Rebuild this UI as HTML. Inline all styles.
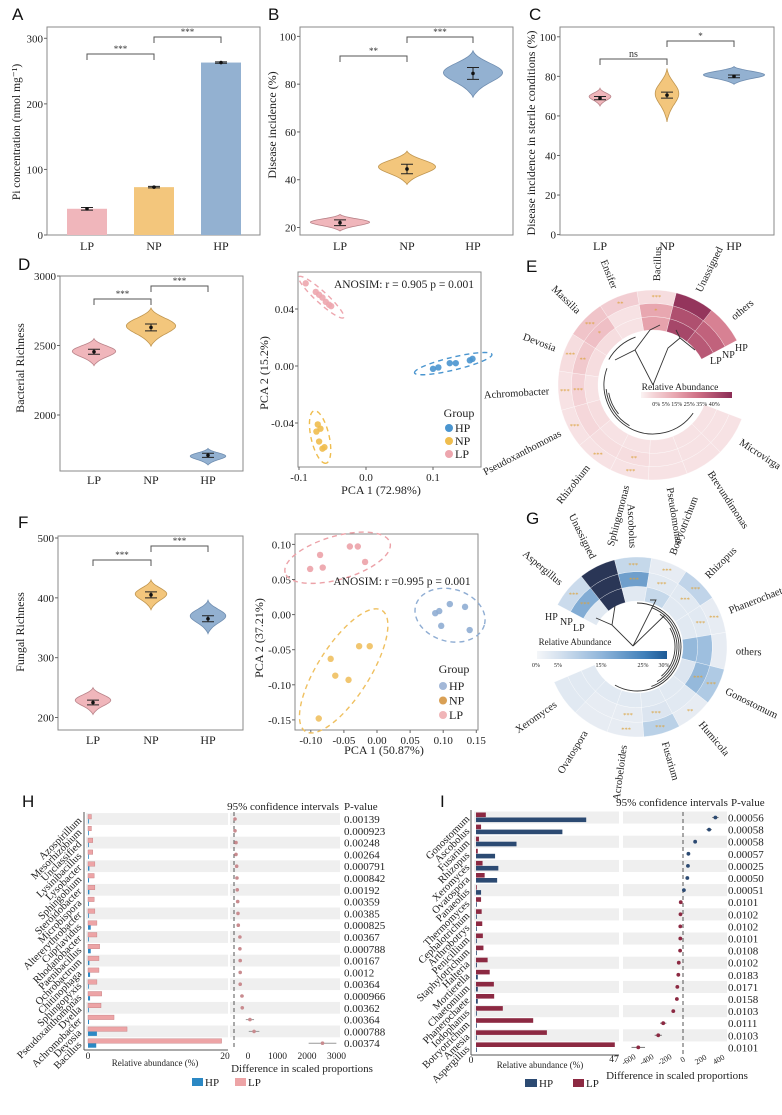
<!DOCTYPE html>
<html><head><meta charset="utf-8"><title>Figure</title>
<style>
html,body{margin:0;padding:0;background:#fff;}
svg{display:block;font-family:"Liberation Serif","DejaVu Serif",serif;}
.lt{font-family:"Liberation Sans","DejaVu Sans",sans-serif;}
</style></head>
<body>
<svg id="fig" width="782" height="1115" viewBox="0 0 782 1115" xmlns="http://www.w3.org/2000/svg">
<defs>
<linearGradient id="gE" x1="0" x2="1" y1="0" y2="0">
<stop offset="0" stop-color="#fbf3f3"/><stop offset="0.125" stop-color="#f5d7da"/><stop offset="0.375" stop-color="#e8a7b0"/><stop offset="0.625" stop-color="#cf7086"/><stop offset="1" stop-color="#8b2c55"/>
</linearGradient>
<linearGradient id="gG" x1="0" x2="1" y1="0" y2="0">
<stop offset="0" stop-color="#f4f6f9"/><stop offset="0.17" stop-color="#d6e2ef"/><stop offset="0.5" stop-color="#8fb5da"/><stop offset="0.83" stop-color="#3f7fb9"/><stop offset="1" stop-color="#1d5a96"/>
</linearGradient>
</defs>
</svg>
<script>
// ---------------- DATA ----------------
const groups = ['LP','NP','HP'];
// Panel A
const piValues = [40, 73, 263];
const piErr = [2, 1.2, 1];
// Panel B
const disMean = [22, 44.5, 84.5];
const disSE = [1.2, 2, 2.5];
const disMin = [18.5, 38, 74.5];
const disMax = [25.5, 52, 94];
// Panel C
const sterMean = [69, 70.5, 80];
const sterSE = [0.8, 1.5, 0.7];
const sterMin = [65, 57, 76];
const sterMax = [74, 84, 85];
// Panel D violin
const bacMean = [2455, 2630, 1710];
const bacSE = [18, 25, 15];
const bacMin = [2355, 2495, 1640];
const bacMax = [2550, 2770, 1760];
// Panel D PCA
const dLPx = [-0.09,-0.075,-0.07,-0.065,-0.06,-0.055,-0.052];
const dLPy = [0.058,0.052,0.05,0.048,0.045,0.043,0.042];
const dNPx = [-0.072,-0.068,-0.074,-0.07,-0.065,-0.062];
const dNPy = [-0.041,-0.044,-0.046,-0.053,-0.058,-0.057];
const dHPx = [0.1,0.108,0.125,0.134,0.155,0.159];
const dHPy = [-0.002,-0.001,0.002,0.002,0.004,0.005];
// Panel F violin
const funMean = [225, 405, 365];
const funSE = [4, 5, 5];
const funMin = [205, 380, 340];
const funMax = [250, 430, 396];
// Panel F PCA
const fLPx = [-0.101,-0.082,-0.086,-0.041,-0.029,-0.018];
const fLPy = [0.065,0.067,0.085,0.097,0.097,0.075];
const fNPx = [-0.07,-0.063,-0.043,-0.027,-0.011,-0.088];
const fNPy = [-0.063,-0.087,-0.093,-0.045,-0.045,-0.148];
const fHPx = [0.088,0.094,0.11,0.133,0.097,0.14];
const fHPy = [0.002,0.005,0.015,0.011,-0.016,-0.022];
// Panel E
const eCats = ['others','Unassigned','Bacillus','Ensifer','Massilia','Devosia','Achromobacter','Pseudoxanthomonas','Rhizobium','Sphingomonas','Pseudomonas','Brevundimonas','Microvirga'];
const eLP = [30,34,16,3,4,4,3,4,3,3,3,3,3];
const eNP = [28,32,15,3,10,8,6,5,4,4,3,3,3];
const eHP = [22,38,4,7,9,4,3,3,3,3,3,3,3];
// Panel G
const gCats = ['Aspergillus','Unassigned','Ascobolus','Botryotrichum','Rhizopus','Phanerochaete','others','Gonostomum','Humicola','Fusarium','Acrobeloides','Ovatospora','Xeromyces'];
const gLP = [3,45,3,8,3,3,16,4,3,3,3,3,3];
const gNP = [18,45,20,3,3,3,15,16,3,4,2,2,3];
const gHP = [7,45,8,2,9,2,2,12,2,10,2,2,3];
// Panel H
const hNames = ['Azospirillum','Mesorhizobium','Unclassified','Lysinibacillus','Lysobacter','Sphingobium','Steroidobacter','Microbispora','Altererythrobacter','Cupriavidus','Rhodanobacter','Paenibacillus','Ochrobactrum','Chitinophaga','Sphingopyxis','Pseudoxanthomonas','Dyella','Achromobacter','Devosia','Bacillus'];
const hLP = [0.5,0.5,0.7,0.7,1.0,0.9,1.0,0.9,1.0,1.3,1.3,1.7,1.6,1.6,1.3,2.0,1.9,3.8,5.7,19.5];
const hHP = [0.1,0.05,0.1,0.05,0.2,0.15,0.2,0.05,0.05,0.4,0.05,0.4,0.2,0.3,0.05,0.3,0.05,0.15,1.3,1.2];
const hDiff = [34,34,68,68,90,100,110,125,135,145,200,200,210,210,210,270,280,540,680,3000];
const hCI = [50,50,50,50,50,50,50,50,50,50,50,50,50,50,50,60,60,140,180,470];
const hP = ['0.00139','0.000923','0.00248','0.00264','0.000791','0.000842','0.00192','0.00359','0.00385','0.000825','0.00367','0.000788','0.00167','0.0012','0.00364','0.000966','0.00362','0.00364','0.000788','0.00374'];
const hDiffTicks = [0,1000,2000,3000];
// Panel I
const iNames = ['Gonostomum','Ascobolus','Fusarium','Rhizopus','Xeromyces','Ovatospora','Panaeolus','Thermomyces','Cephalotrichum','Arthrobotrys','Penicillium','Staphylotrichum','Halteria','Mortierella','Chaetomium','Phanerochaete','Iodophanus','Botryotrichum','Amesia','Aspergillus'];
const iLP = [3.3,1.7,1,0.6,2.2,2.9,0.1,1.7,1.9,2.1,2.3,2.5,3.9,4.6,6,6.1,9,19.2,23.8,46.6];
const iHP = [37,29,13.6,6.4,7.5,7.1,1.7,0.1,0.1,0.1,0.1,0.1,0.3,0.6,0.6,0.6,0.2,0.1,0.1,0.1];
const iDiff = [360,290,135,60,55,48,10,-25,-28,-30,-30,-32,-47,-52,-63,-68,-108,-220,-275,-497];
const iCI = [35,30,15,8,8,8,8,8,8,8,8,8,10,10,10,10,20,35,40,75];
const iP = ['0.00056','0.00058','0.00058','0.00057','0.00025','0.00050','0.00051','0.0101','0.0102','0.0102','0.0101','0.0108','0.0102','0.0183','0.0171','0.0158','0.0103','0.0111','0.0103','0.0101'];
const iDiffTicks = [-600,-400,-200,0,200,400];

// ---------------- HELPERS ----------------
const ns='http://www.w3.org/2000/svg';
const svg=document.getElementById('fig');
function mk(tag, attrs, parent){
  const e=document.createElementNS(ns,tag);
  for(const k in attrs) e.setAttribute(k, attrs[k]);
  (parent||svg).appendChild(e);
  return e;
}
function nm(e, n, inter){
  
  
  return e;
}
function tx(x,y,s,attrs,name,parent){
  const a=Object.assign({x:x,y:y,'font-size':11,fill:'#222'},attrs||{});
  const e=mk('text',a,parent); e.textContent=s; nm(e,name); return e;
}
function lin(d0,d1,r0,r1){return v=>r0+(v-d0)*(r1-r0)/(d1-d0);}
const col = {LP:'#f0b6bb', NP:'#f3c67c', HP:'#93b1d1'};
const colS = {LP:'#b98389', NP:'#c09650', HP:'#6f8db0'};

function panelLetter(x,y,s){ const t=tx(x,y,s,{'font-size':17,'class':'lt',fill:'#111'},'panel-label-'+s.toLowerCase()); }
function box(x0,y0,x1,y1,name){ nm(mk('rect',{x:x0,y:y0,width:x1-x0,height:y1-y0,fill:'none',stroke:'#8a8a8a','stroke-width':1}),name); }
function yTicks(x, vals, ys, name, fs){
  vals.forEach(v=>{
    nm(mk('line',{x1:x-3,x2:x,y1:ys(v),y2:ys(v),stroke:'#666'}),name+'-tick');
    tx(x-4,ys(v)+4,String(v),{'text-anchor':'end','font-size':fs||11},name+'-label');
  });
}
function xCats(xs, y, name){
  groups.forEach((g,i)=>tx(xs[i],y,g,{'text-anchor':'middle','font-size':12},name+'-'+g.toLowerCase()));
}
function yTitle(x,y,s,name,fs){ tx(x,y,s,{'text-anchor':'middle','font-size':fs||12,transform:`rotate(-90 ${x} ${y})`},name); }
function bracket(x1,x2,y,lab,name){
  nm(mk('path',{d:`M${x1} ${y+6}V${y}H${x2}V${y+6}`,fill:'none',stroke:'#555','stroke-width':1}),name);
  tx((x1+x2)/2,y-2,lab,{'text-anchor':'middle','font-size':lab==='ns'?10:9,fill:'#333'},name+'-label');
}
function violin(cx,yTop,yBot,hw,g,name){
  const N=30, L=[], R=[];
  for(let i=0;i<=N;i++){
    const t=i/N, y=yTop+t*(yBot-yTop);
    const s=Math.sin(Math.PI*t);
    const w=hw*Math.pow(s,1.4)*(0.55+0.45*Math.pow(Math.sin(Math.PI*Math.min(1,t*1.15)),2));
    L.push([cx-w,y]); R.push([cx+w,y]);
  }
  const d='M'+L.map(p=>p[0].toFixed(1)+' '+p[1].toFixed(1)).join('L')+'L'+R.reverse().map(p=>p[0].toFixed(1)+' '+p[1].toFixed(1)).join('L')+'Z';
  nm(mk('path',{d:d,fill:col[g],stroke:colS[g],'stroke-width':0.8}),name);
}
function errMark(cx,ym,yl,yh,name){
  nm(mk('path',{d:`M${cx-6} ${yl}H${cx+6}M${cx} ${yl}V${yh}M${cx-6} ${yh}H${cx+6}`,stroke:'#222','stroke-width':1,fill:'none'}),name);
  nm(mk('circle',{cx:cx,cy:ym,r:1.8,fill:'#111'}),name+'-mean');
}
function violinPanel(xs, ys, mean, se, mn, mx, hws, name){
  groups.forEach((g,i)=>{
    violin(xs[i], ys(mx[i]), ys(mn[i]), hws[i], g, name+'-violin-'+g.toLowerCase());
    errMark(xs[i], ys(mean[i]), ys(mean[i]+se[i]), ys(mean[i]-se[i]), name+'-errorbar-'+g.toLowerCase());
  });
}
function ellipseFor(xsA, ysA, sx, sy, color, name){
  const px=xsA.map(sx), py=ysA.map(sy), n=px.length;
  const mx=px.reduce((a,b)=>a+b)/n, my=py.reduce((a,b)=>a+b)/n;
  let cxx=0,cyy=0,cxy=0;
  for(let i=0;i<n;i++){cxx+=(px[i]-mx)**2;cyy+=(py[i]-my)**2;cxy+=(px[i]-mx)*(py[i]-my);}
  cxx/=n;cyy/=n;cxy/=n;
  const tr=cxx+cyy, det=cxx*cyy-cxy*cxy, disc=Math.sqrt(Math.max(0,tr*tr/4-det));
  const l1=tr/2+disc, l2=tr/2-disc;
  const ang=Math.atan2(l1-cxx, cxy||1e-9)*180/Math.PI;
  const rx=Math.sqrt(l1)*2.3+5, ry=Math.sqrt(Math.max(l2,0))*2.3+5;
  nm(mk('ellipse',{cx:mx,cy:my,rx:rx,ry:ry,transform:`rotate(${ang} ${mx} ${my})`,fill:'none',stroke:color,'stroke-width':1.4,'stroke-dasharray':'5 4'}),name);
}
function points(xsA, ysA, sx, sy, color, name){
  xsA.forEach((v,i)=>nm(mk('circle',{cx:sx(v),cy:sy(ysA[i]),r:3.2,fill:color,opacity:0.9}),name));
}

// ---------------- PANEL A ----------------
panelLetter(12,20,'A');
(function(){
  const ys=lin(0,300,235,38.3), xs=[87,154,221];
  box(47,27,260,235,'panel-a-plot-area');
  yTicks(47,[0,100,200,300],ys,'panel-a-y-tick');
  groups.forEach((g,i)=>{
    nm(mk('rect',{x:xs[i]-20,y:ys(piValues[i]),width:40,height:ys(0)-ys(piValues[i]),fill:col[g]}),'bar-'+g.toLowerCase());
    errMark(xs[i],ys(piValues[i]),ys(piValues[i]+piErr[i]),ys(piValues[i]-piErr[i]),'panel-a-errorbar-'+g.toLowerCase());
  });
  xCats(xs,250,'panel-a-x-label');
  yTitle(20,132,'Pi concentration (nmol mg⁻¹)','panel-a-y-axis-title',11.5);
  bracket(87,154,54,'***','panel-a-sig-lp-np');
  bracket(154,221,37,'***','panel-a-sig-np-hp');
})();

// ---------------- PANEL B ----------------
panelLetter(268,20,'B');
(function(){
  const ys=lin(20,100,227.5,36.4), xs=[340,407,473];
  box(300,27,513,235,'panel-b-plot-area');
  yTicks(300,[20,40,60,80,100],ys,'panel-b-y-tick');
  violinPanel(xs,ys,disMean,disSE,disMin,disMax,[30,29,30],'panel-b');
  xCats(xs,250,'panel-b-x-label');
  yTitle(276,125,'Disease incidence (%)','panel-b-y-axis-title');
  bracket(340,407,56,'**','panel-b-sig-lp-np');
  bracket(407,473,37,'***','panel-b-sig-np-hp');
})();

// ---------------- PANEL C ----------------
panelLetter(529,20,'C');
(function(){
  const ys=lin(0,100,234.6,36.8), xs=[600,667,734];
  box(560,27,774,235,'panel-c-plot-area');
  yTicks(560,[0,20,40,60,80,100],ys,'panel-c-y-tick');
  violinPanel(xs,ys,sterMean,sterSE,sterMin,sterMax,[11,12,31],'panel-c');
  xCats(xs,250,'panel-c-x-label');
  yTitle(535,133,'Disease incidence in sterile conditions (%)','panel-c-y-axis-title');
  bracket(600,667,59,'ns','panel-c-sig-lp-np');
  bracket(667,734,41,'*','panel-c-sig-np-hp');
})();

// ---------------- PANEL D ----------------
panelLetter(18,270,'D');
(function(){
  const ys=lin(2000,3000,415,276), xs=[94,151,208];
  box(60,276,243,471,'panel-d-plot-area');
  yTicks(60,[2000,2500,3000],ys,'panel-d-y-tick');
  violinPanel(xs,ys,bacMean,bacSE,bacMin,bacMax,[22,25,18],'panel-d');
  xCats(xs,484,'panel-d-x-label');
  yTitle(24,368,'Bacterial Richness','panel-d-y-axis-title');
  bracket(94,151,299,'***','panel-d-sig-lp-np');
  bracket(151,208,286,'***','panel-d-sig-np-hp');
})();
(function(){
  const sx=lin(0,0.1,366,433), sy=lin(0,0.04,366,309);
  box(298,272,481,467,'pca-d-plot-area');
  [-0.04,0,0.04].forEach(v=>{
    nm(mk('line',{x1:295,x2:298,y1:sy(v),y2:sy(v),stroke:'#666'}),'pca-d-y-tick');
    tx(294,sy(v)+4,v.toFixed(2),{'text-anchor':'end','font-size':11},'pca-d-y-tick-label');
  });
  [-0.1,0,0.1].forEach(v=>{
    nm(mk('line',{x1:sx(v),x2:sx(v),y1:467,y2:470,stroke:'#666'}),'pca-d-x-tick');
    tx(sx(v),481,v.toFixed(1),{'text-anchor':'middle','font-size':11},'pca-d-x-tick-label');
  });
  ellipseFor(dLPx,dLPy,sx,sy,'#eda6ae','pca-d-ellipse-lp');
  ellipseFor(dNPx,dNPy,sx,sy,'#efbd4e','pca-d-ellipse-np');
  ellipseFor(dHPx,dHPy,sx,sy,'#4a95cf','pca-d-ellipse-hp');
  points(dLPx,dLPy,sx,sy,'#eda6ae','pca-d-point-lp');
  points(dNPx,dNPy,sx,sy,'#efbd4e','pca-d-point-np');
  points(dHPx,dHPy,sx,sy,'#4a95cf','pca-d-point-hp');
  tx(404,288,'ANOSIM: r = 0.905 p = 0.001',{'text-anchor':'middle','font-size':11.5},'pca-d-anosim-text');
  tx(459,417,'Group',{'text-anchor':'middle','font-size':12},'pca-d-legend-title');
  [['HP','#4a95cf'],['NP','#efbd4e'],['LP','#eda6ae']].forEach((p,i)=>{
    nm(mk('circle',{cx:449,cy:428+i*13,r:4,fill:p[1]}),'pca-d-legend-marker-'+p[0].toLowerCase());
    tx(455,432+i*13,p[0],{'font-size':12},'pca-d-legend-entry-'+p[0].toLowerCase());
  });
  tx(381,494,'PCA 1 (72.98%)',{'text-anchor':'middle','font-size':12},'pca-d-x-axis-title');
  yTitle(268,373,'PCA 2 (15.2%)','pca-d-y-axis-title');
})();

// ---------------- PANEL F ----------------
panelLetter(18,528,'F');
(function(){
  const ys=lin(200,500,717.5,538), xs=[93,151,208];
  box(58,536,243,730,'panel-f-plot-area');
  yTicks(58,[200,300,400,500],ys,'panel-f-y-tick');
  violinPanel(xs,ys,funMean,funSE,funMin,funMax,[18,16,18],'panel-f');
  xCats(xs,744,'panel-f-x-label');
  yTitle(24,632,'Fungal Richness','panel-f-y-axis-title');
  bracket(93,151,560,'***','panel-f-sig-lp-np');
  bracket(151,208,546,'***','panel-f-sig-np-hp');
})();
(function(){
  const sx=lin(0,0.05,377,410.1), sy=lin(0,0.05,614.6,579.5);
  box(295,534,478,730,'pca-f-plot-area');
  [0.1,0.05,0,-0.05,-0.1,-0.15].forEach(v=>{
    nm(mk('line',{x1:292,x2:295,y1:sy(v),y2:sy(v),stroke:'#666'}),'pca-f-y-tick');
    tx(291,sy(v)+4,v.toFixed(2),{'text-anchor':'end','font-size':11},'pca-f-y-tick-label');
  });
  [-0.1,-0.05,0,0.05,0.1,0.15].forEach(v=>{
    nm(mk('line',{x1:sx(v),x2:sx(v),y1:730,y2:733,stroke:'#666'}),'pca-f-x-tick');
    tx(sx(v),744,v.toFixed(2),{'text-anchor':'middle','font-size':11},'pca-f-x-tick-label');
  });
  ellipseFor(fLPx,fLPy,sx,sy,'#eca2a8','pca-f-ellipse-lp');
  ellipseFor(fNPx,fNPy,sx,sy,'#efc060','pca-f-ellipse-np');
  ellipseFor(fHPx,fHPy,sx,sy,'#8fadd3','pca-f-ellipse-hp');
  points(fLPx,fLPy,sx,sy,'#eca2a8','pca-f-point-lp');
  points(fNPx,fNPy,sx,sy,'#efc060','pca-f-point-np');
  points(fHPx,fHPy,sx,sy,'#8fadd3','pca-f-point-hp');
  tx(402,585,'ANOSIM: r =0.995 p = 0.001',{'text-anchor':'middle','font-size':11.5},'pca-f-anosim-text');
  tx(454,673,'Group',{'text-anchor':'middle','font-size':12},'pca-f-legend-title');
  [['HP','#a3b8d8'],['NP','#d9a055'],['LP','#f0b5b8']].forEach((p,i)=>{
    nm(mk('circle',{cx:443,cy:686+i*14.5,r:4,fill:p[1]}),'pca-f-legend-marker-'+p[0].toLowerCase());
    tx(449,690+i*14.5,p[0],{'font-size':12},'pca-f-legend-entry-'+p[0].toLowerCase());
  });
  tx(384,754,'PCA 1 (50.87%)',{'text-anchor':'middle','font-size':12},'pca-f-x-axis-title');
  yTitle(263,638,'PCA 2 (37.21%)','pca-f-y-axis-title');
})();

// ---------------- CIRCULAR HEATMAPS ----------------
function hex2rgb(h){return [parseInt(h.substr(1,2),16),parseInt(h.substr(3,2),16),parseInt(h.substr(5,2),16)];}
function scale(stops){
  return v=>{
    if(v<=stops[0][0]) return stops[0][1];
    for(let i=1;i<stops.length;i++){
      if(v<=stops[i][0]){
        const t=(v-stops[i-1][0])/(stops[i][0]-stops[i-1][0]);
        const a=hex2rgb(stops[i-1][1]), b=hex2rgb(stops[i][1]);
        return 'rgb('+a.map((c,k)=>Math.round(c+(b[k]-c)*t)).join(',')+')';
      }
    }
    return stops[stops.length-1][1];
  };
}
function P(cx,cy,r,a){const t=a*Math.PI/180;return [cx+r*Math.sin(t),cy-r*Math.cos(t)];}
function sector(cx,cy,r0,r1,a0,a1){
  const lo=Math.min(a0,a1), hi=Math.max(a0,a1), lg=(hi-lo)>180?1:0;
  const p1=P(cx,cy,r1,lo),p2=P(cx,cy,r1,hi),p3=P(cx,cy,r0,hi),p4=P(cx,cy,r0,lo);
  return `M${p1[0]} ${p1[1]}A${r1} ${r1} 0 ${lg} 1 ${p2[0]} ${p2[1]}L${p3[0]} ${p3[1]}A${r0} ${r0} 0 ${lg} 0 ${p4[0]} ${p4[1]}Z`;
}
function arcPath(cx,cy,r,a0,a1){
  const p1=P(cx,cy,r,a0),p2=P(cx,cy,r,a1),lg=Math.abs(a1-a0)>180?1:0;
  return `M${p1[0]} ${p1[1]}A${r} ${r} 0 ${lg} ${a1>a0?1:0} ${p2[0]} ${p2[1]}`;
}
function circHeat(cfg){
  const {cx,cy,r0,r1,start,span,dir,cats,rings,cfn,name,stars}=cfg;
  const n=cats.length, step=span/n, th=(r1-r0)/3;
  const g=nm(mk('g',{}),name);
  rings.forEach((vals,ri)=>{
    vals.forEach((v,i)=>{
      const a0=start+dir*i*step, a1=start+dir*(i+1)*step;
      nm(mk('path',{d:sector(cx,cy,r0+ri*th,r0+(ri+1)*th,a0,a1),fill:cfn(v),stroke:'#ffffff','stroke-width':0.3},g),name+'-cell-'+cats[i].toLowerCase()+'-'+groups[ri].toLowerCase());
    });
  });
  cats.forEach((c,i)=>{
    const am=start+dir*(i+0.5)*step; let a=((am%360)+360)%360;
    const p=P(cx,cy,r1+9,am);
    let rot, anchor;
    if(a<180){rot=a-90;anchor='start';}else{rot=a+90;anchor='end';}
    tx(p[0],p[1]+3,c,{'font-size':10.5,'text-anchor':anchor,transform:`rotate(${rot} ${p[0]} ${p[1]})`},name+'-label-'+c.toLowerCase());
  });
  stars.forEach(s=>{
    const am=start+dir*(s[0]+0.5)*step, p=P(cx,cy,r0+(s[1]+0.5)*th,am);
    tx(p[0],p[1]+2.5,s[2],{'font-size':6.5,'text-anchor':'middle',fill:'#dba33f'},name+'-significance');
  });
}
// E
panelLetter(526,272,'E');
circHeat({cx:653,cy:385,r0:55,r1:95,start:62,span:311,dir:-1,cats:eCats,rings:[eLP,eNP,eHP],
  cfn:scale([[0,'#fbf3f3'],[5,'#f5d7da'],[15,'#e8a7b0'],[25,'#cf7086'],[40,'#8b2c55']]),name:'heatmap-e',
  stars:[[2,2,'***'],[2,1,'*'],[3,2,'**'],[4,2,'***'],[4,1,'*'],[5,2,'***'],[5,1,'**'],[6,2,'***'],[6,1,'***'],[7,2,'***'],[8,2,'***'],[9,2,'***'],[9,1,'**']]});
(function(){
  const g=nm(mk('g',{fill:'none',stroke:'#333','stroke-width':0.9}),'dendrogram-e');
  [[49,-70,-235],[47,-95,-150],[45,-100,-130],[51,-20,-60]].forEach(a=>nm(mk('path',{d:arcPath(653,385,a[0],a[1],a[2])},g),'dendrogram-e-branch'));
  nm(mk('path',{d:'M653 385L635 350L615 360M653 385L668 348L680 338L695 350M680 338L676 330M635 350L650 330L660 325'},g),'dendrogram-e-branch');
  tx(680,390,'Relative Abundance',{'text-anchor':'middle','font-size':9.5},'legend-e-title');
  nm(mk('rect',{x:641,y:392,width:91,height:6,fill:'url(#gE)'}),'legend-e-colorbar');
  tx(686,406,'0%  5%      15%    25%    35%  40%',{'text-anchor':'middle','font-size':6,'xml:space':'preserve'},'legend-e-ticks');
  tx(710,364,'LP',{'font-size':10},'heatmap-e-ring-lp');
  tx(722,358,'NP',{'font-size':10},'heatmap-e-ring-np');
  tx(735,351,'HP',{'font-size':10},'heatmap-e-ring-hp');
})();
// G
panelLetter(526,524,'G');
circHeat({cx:637,cy:647,r0:46,r1:90,start:-62,span:309,dir:1,cats:gCats,rings:[gLP,gNP,gHP],
  cfn:scale([[0,'#f2f3f6'],[5,'#d6e2ef'],[15,'#9ebfdf'],[25,'#3f7fb9'],[30,'#1d5a96'],[31,'#2a3656']]),name:'heatmap-g',
  stars:[[0,2,'***'],[0,1,'***'],[2,2,'***'],[2,1,'***'],[3,2,'***'],[3,1,'***'],[4,2,'***'],[4,1,'***'],[5,2,'***'],[5,1,'***'],[7,2,'***'],[7,1,'***'],[8,2,'**'],[9,2,'***'],[9,1,'***'],[10,2,'***'],[10,1,'***']]});
(function(){
  const g=nm(mk('g',{fill:'none',stroke:'#333','stroke-width':0.9}),'dendrogram-g');
  [[44,0,210],[42,20,160],[40,35,150],[38,60,140]].forEach(a=>nm(mk('path',{d:arcPath(637,647,a[0],a[1],a[2])},g),'dendrogram-g-branch'));
  nm(mk('path',{d:'M633 646L612 625L596 618M612 625L615 606M633 646L656 600L650 600M633 646L665 615'},g),'dendrogram-g-branch');
  tx(575,645,'Relative Abundance',{'text-anchor':'middle','font-size':9},'legend-g-title');
  nm(mk('rect',{x:537,y:651,width:130,height:8,fill:'url(#gG)'}),'legend-g-colorbar');
  [['0%',536],['5%',558],['15%',601],['25%',643],['30%',664]].forEach(p=>tx(p[1],667,p[0],{'text-anchor':'middle','font-size':6},'legend-g-tick'));
  tx(545,620,'HP',{'font-size':10},'heatmap-g-ring-hp');
  tx(560,625,'NP',{'font-size':10},'heatmap-g-ring-np');
  tx(573,631,'LP',{'font-size':10},'heatmap-g-ring-lp');
})();

// ---------------- PANEL H ----------------
panelLetter(22,807,'H');
(function(){
  const rowY=i=>819+i*11.8, xs=lin(0,20,88,225), xd=lin(0,1000,234,263.5);
  hNames.forEach((n,i)=>{
    if(i%2===0){
      nm(mk('rect',{x:86,y:rowY(i)-5.9,width:142,height:11.8,fill:'#efefef'}),'panel-h-stripe-left');
      nm(mk('rect',{x:230,y:rowY(i)-5.9,width:110,height:11.8,fill:'#efefef'}),'panel-h-stripe-right');
    }
  });
  nm(mk('line',{x1:84,x2:84,y1:812,y2:1050,stroke:'#555'}),'panel-h-y-axis');
  nm(mk('line',{x1:84,x2:228,y1:1050,y2:1050,stroke:'#555'}),'panel-h-x-axis');
  nm(mk('line',{x1:xd(0),x2:xd(0),y1:812,y2:1050,stroke:'#555','stroke-dasharray':'4 3'}),'panel-h-zero-line');
  hNames.forEach((n,i)=>{
    const y=rowY(i);
    nm(mk('rect',{x:xs(0),y:y-4.5,width:xs(hLP[i])-xs(0),height:4.5,fill:'#eda4a6',stroke:'#c07b7e','stroke-width':0.4}),'bar-h-lp-'+n.toLowerCase());
    nm(mk('rect',{x:xs(0),y:y+0.2,width:Math.max(0.8,xs(hHP[i])-xs(0)),height:4.3,fill:'#2b88c4'}),'bar-h-hp-'+n.toLowerCase());
    nm(mk('line',{x1:xd(hDiff[i]-hCI[i]),x2:xd(hDiff[i]+hCI[i]),y1:y,y2:y,stroke:'#999'}),'ci-h-'+n.toLowerCase());
    nm(mk('circle',{cx:xd(hDiff[i]),cy:y,r:1.8,fill:'#c98b8f'}),'point-h-'+n.toLowerCase());
    tx(344,y+4,hP[i],{'font-size':11},'p-value-h-'+n.toLowerCase());
    tx(80,y+3,n,{'font-size':10.5,'text-anchor':'end',transform:`rotate(-45 80 ${y})`},'row-label-h-'+n.toLowerCase());
  });
  [0,20].forEach(v=>tx(xs(v),1059,String(v),{'text-anchor':'middle','font-size':9.5},'panel-h-abundance-tick'));
  hDiffTicks.forEach(v=>tx(xd(v)+14,1059,String(v),{'text-anchor':'middle','font-size':9.5},'panel-h-diff-tick'));
  tx(155,1066,'Relative abundance (%)',{'text-anchor':'middle','font-size':9},'panel-h-x-axis-title');
  tx(302,1072,'Difference in scaled proportions',{'text-anchor':'middle','font-size':11},'panel-h-diff-axis-title');
  tx(283,810,'95% confidence intervals',{'text-anchor':'middle','font-size':11},'panel-h-ci-header');
  tx(344,810,'P-value',{'font-size':11},'panel-h-p-header');
  nm(mk('rect',{x:192,y:1078,width:11,height:8,fill:'#2b88c4'}),'legend-h-hp-swatch');
  tx(205,1086,'HP',{'font-size':11},'legend-h-hp');
  nm(mk('rect',{x:235,y:1078,width:11,height:8,fill:'#eda4a6'}),'legend-h-lp-swatch');
  tx(248,1086,'LP',{'font-size':11},'legend-h-lp');
})();

// ---------------- PANEL I ----------------
panelLetter(440,807,'I');
(function(){
  const rowY=i=>817.5+i*12.1, xs=lin(0,47,476,616), xd=lin(0,100,683,692);
  iNames.forEach((n,i)=>{
    if(i%2===0){
      nm(mk('rect',{x:474,y:rowY(i)-6,width:145,height:12.1,fill:'#efefef'}),'panel-i-stripe-left');
      nm(mk('rect',{x:623,y:rowY(i)-6,width:104,height:12.1,fill:'#efefef'}),'panel-i-stripe-right');
    }
  });
  nm(mk('line',{x1:471,x2:471,y1:810,y2:1055,stroke:'#555'}),'panel-i-y-axis');
  nm(mk('line',{x1:471,x2:619,y1:1055,y2:1055,stroke:'#555'}),'panel-i-x-axis');
  nm(mk('line',{x1:xd(0),x2:xd(0),y1:812,y2:1055,stroke:'#555','stroke-dasharray':'4 3'}),'panel-i-zero-line');
  iNames.forEach((n,i)=>{
    const y=rowY(i);
    nm(mk('rect',{x:xs(0),y:y-5,width:Math.max(0.8,xs(iLP[i])-xs(0)),height:4.6,fill:'#8c2942'}),'bar-i-lp-'+n.toLowerCase());
    nm(mk('rect',{x:xs(0),y:y,width:Math.max(0.8,xs(iHP[i])-xs(0)),height:4.6,fill:'#2c4a72'}),'bar-i-hp-'+n.toLowerCase());
    nm(mk('line',{x1:xd(iDiff[i]-iCI[i]),x2:xd(iDiff[i]+iCI[i]),y1:y,y2:y,stroke:'#777'}),'ci-i-'+n.toLowerCase());
    nm(mk('circle',{cx:xd(iDiff[i]),cy:y,r:1.9,fill:iDiff[i]>0?'#2c4a72':'#8c2942'}),'point-i-'+n.toLowerCase());
    tx(728,y+4,iP[i],{'font-size':11},'p-value-i-'+n.toLowerCase());
    tx(468,y+3,n,{'font-size':10.5,'text-anchor':'end',transform:`rotate(-45 468 ${y})`},'row-label-i-'+n.toLowerCase());
  });
  tx(471,1063,'0',{'text-anchor':'middle','font-size':9.5},'panel-i-abundance-tick');
  tx(614,1062,'47',{'text-anchor':'middle','font-size':9.5},'panel-i-abundance-tick');
  iDiffTicks.forEach(v=>{const x=xd(v);tx(x,1062,String(v),{'text-anchor':'middle','font-size':8,transform:`rotate(-30 ${x} 1060)`},'panel-i-diff-tick');});
  tx(540,1068,'Relative abundance (%)',{'text-anchor':'middle','font-size':9},'panel-i-x-axis-title');
  tx(677,1079,'Difference in scaled proportions',{'text-anchor':'middle','font-size':11},'panel-i-diff-axis-title');
  tx(672,806,'95% confidence intervals',{'text-anchor':'middle','font-size':11},'panel-i-ci-header');
  tx(731,806,'P-value',{'font-size':11},'panel-i-p-header');
  nm(mk('rect',{x:525,y:1079,width:12,height:8,fill:'#2c4a72'}),'legend-i-hp-swatch');
  tx(539,1087,'HP',{'font-size':11},'legend-i-hp');
  nm(mk('rect',{x:573,y:1079,width:11,height:8,fill:'#8c2942'}),'legend-i-lp-swatch');
  tx(586,1087,'LP',{'font-size':11},'legend-i-lp');
})();
</script>
</body></html>
